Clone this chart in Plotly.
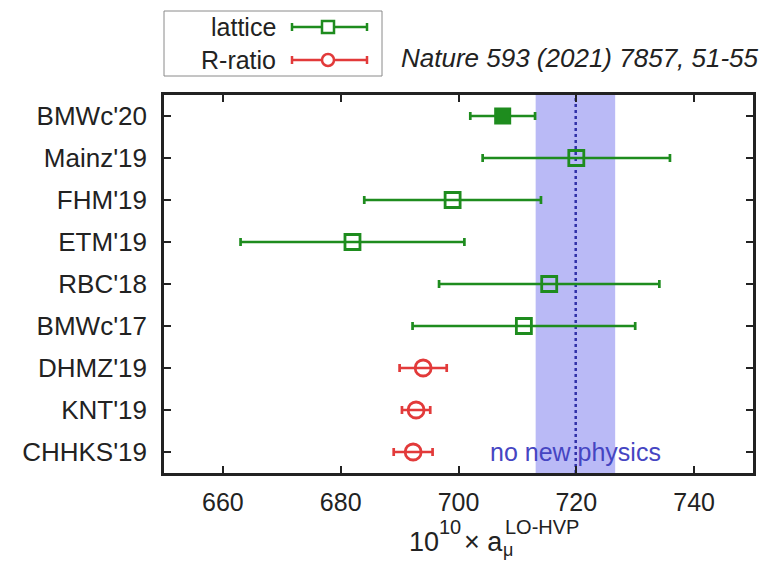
import plotly.graph_objects as go

# ---- data ----
labels = ["BMWc'20", "Mainz'19", "FHM'19", "ETM'19", "RBC'18", "BMWc'17", "DHMZ'19", "KNT'19", "CHHKS'19"]
lattice_labels = ["BMWc'20", "Mainz'19", "FHM'19", "ETM'19", "RBC'18", "BMWc'17"]
lattice_vals = [707.5, 720.0, 699.0, 682.0, 715.4, 711.1]
lattice_errs = [5.5, 15.9, 15.0, 19.0, 18.7, 18.9]
rratio_labels = ["DHMZ'19", "KNT'19", "CHHKS'19"]
rratio_vals = [694.0, 692.8, 692.3]
rratio_errs = [4.0, 2.4, 3.3]
nnp_center = 719.9
nnp_band = [713.1, 726.6]
x_ticks = [660, 680, 700, 720, 740]

GREEN = "#1e8c1e"
RED = "#e23a3a"
BAND = "#babaf6"
DOT = "#3030a8"
TXT = "#4545c2"
FONT = "Liberation Sans, Arial, sans-serif"

W, H = 775, 561
L, R, T, B = 164, 753, 95, 473

def px(x):
    return (x - L) / (R - L)

def py(y):
    return (B - y) / (B - T)

fig = go.Figure()

fig.add_trace(go.Scatter(
    x=lattice_vals[:1], y=lattice_labels[:1], mode="markers",
    marker=dict(symbol="square", size=15, color=GREEN, line=dict(color=GREEN, width=2)),
    error_x=dict(type="data", array=lattice_errs[:1], color=GREEN, thickness=2.7, width=4),
    showlegend=False))
fig.add_trace(go.Scatter(
    x=lattice_vals[1:], y=lattice_labels[1:], mode="markers",
    marker=dict(symbol="square-open", size=15, color=GREEN, line=dict(color=GREEN, width=2.8)),
    error_x=dict(type="data", array=lattice_errs[1:], color=GREEN, thickness=2.7, width=4),
    showlegend=False))
fig.add_trace(go.Scatter(
    x=rratio_vals, y=rratio_labels, mode="markers",
    marker=dict(symbol="circle-open", size=16, color=RED, line=dict(color=RED, width=2.8)),
    error_x=dict(type="data", array=rratio_errs, color=RED, thickness=2.7, width=4),
    showlegend=False))

shapes = []
shapes.append(dict(type="rect", xref="x", yref="paper", x0=nnp_band[0], x1=nnp_band[1], y0=0, y1=1,
                   fillcolor=BAND, line=dict(width=0), layer="below"))
shapes.append(dict(type="line", xref="x", yref="paper", x0=nnp_center, x1=nnp_center, y0=0, y1=1,
                   line=dict(color=DOT, width=2.5, dash="dot"), layer="below"))

# custom legend (gnuplot style)
shapes.append(dict(type="rect", xref="paper", yref="paper", x0=px(164), x1=px(382), y0=py(76), y1=py(11),
                   line=dict(color="#8a8a8a", width=1), fillcolor="white"))
for yy, col, sym in [(27, GREEN, "sq"), (60, RED, "ci")]:
    shapes.append(dict(type="line", xref="paper", yref="paper", x0=px(292), x1=px(367), y0=py(yy), y1=py(yy),
                       line=dict(color=col, width=2.5)))
    for xc in (292, 367):
        shapes.append(dict(type="line", xref="paper", yref="paper", x0=px(xc), x1=px(xc), y0=py(yy - 4), y1=py(yy + 4),
                           line=dict(color=col, width=2.5)))
    shapes.append(dict(type="rect" if sym == "sq" else "circle", xref="paper", yref="paper",
                       x0=px(322), x1=px(334), y0=py(yy + 6), y1=py(yy - 6),
                       line=dict(color=col, width=2.5), fillcolor="white"))

annotations = []
annotations.append(dict(text="lattice", xref="paper", yref="paper", x=px(278), y=py(27), xanchor="right", yanchor="middle",
                        showarrow=False, font=dict(family=FONT, size=25, color="#222")))
annotations.append(dict(text="R-ratio", xref="paper", yref="paper", x=px(278), y=py(60), xanchor="right", yanchor="middle",
                        showarrow=False, font=dict(family=FONT, size=25, color="#222")))
annotations.append(dict(text="<i>Nature 593 (2021) 7857, 51-55</i>", xref="paper", yref="paper", x=px(399), y=py(58),
                        xanchor="left", yanchor="middle", showarrow=False, font=dict(family=FONT, size=26, color="#222")))
annotations.append(dict(text="no new physics", xref="paper", yref="paper", x=px(488), y=py(452),
                        xanchor="left", yanchor="middle", showarrow=False, font=dict(family=FONT, size=25, color=TXT)))
# axis title pieces: 10^10 x a_mu^{LO-HVP}
annotations.append(dict(text="10", xref="paper", yref="paper", x=px(407), y=py(542), xanchor="left", yanchor="middle",
                        showarrow=False, font=dict(family=FONT, size=27, color="#222")))
annotations.append(dict(text="10", xref="paper", yref="paper", x=px(437), y=py(527), xanchor="left", yanchor="middle",
                        showarrow=False, font=dict(family=FONT, size=20, color="#222")))
annotations.append(dict(text="× a", xref="paper", yref="paper", x=px(462), y=py(542), xanchor="left", yanchor="middle",
                        showarrow=False, font=dict(family=FONT, size=27, color="#222")))
annotations.append(dict(text="μ", xref="paper", yref="paper", x=px(501), y=py(550), xanchor="left", yanchor="middle",
                        showarrow=False, font=dict(family=FONT, size=18, color="#222")))
annotations.append(dict(text="LO-HVP", xref="paper", yref="paper", x=px(503), y=py(527), xanchor="left", yanchor="middle",
                        showarrow=False, font=dict(family=FONT, size=20, color="#222")))

fig.update_layout(
    width=W, height=H,
    margin=dict(l=L, r=W - R, t=T, b=H - B),
    paper_bgcolor="white", plot_bgcolor="white",
    shapes=shapes, annotations=annotations,
    showlegend=False,
    font=dict(family=FONT, size=24, color="#222"),
)
fig.update_xaxes(range=[650, 750], tickvals=x_ticks, ticks="inside", ticklen=7, tickwidth=1.5, tickcolor="#222",
                 showline=True, linewidth=2.5, linecolor="#222", mirror="allticks", showgrid=False, zeroline=False,
                 ticklabelstandoff=5,
                 tickfont=dict(family=FONT, size=25, color="#222"))
fig.update_yaxes(type="category", categoryorder="array", categoryarray=labels[::-1], range=[-0.5, 8.5],
                 ticks="inside", ticklen=7, tickwidth=1.5, tickcolor="#222",
                 showline=True, linewidth=2.5, linecolor="#222", mirror="allticks", showgrid=False, zeroline=False,
                 ticklabelstandoff=9,
                 tickfont=dict(family=FONT, size=26, color="#222"))

fig.write_html("out.html")
